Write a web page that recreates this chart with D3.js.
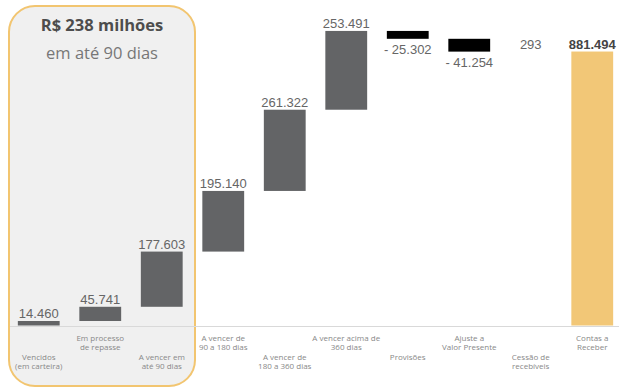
<!DOCTYPE html>
<html>
<head>
<meta charset="utf-8">
<script src="https://cdn.jsdelivr.net/npm/d3@7"></script>
<style>
  body { margin: 0; background: #fff; }
</style>
</head>
<body>
<script>
'use strict';

// waterfall data (R$ mil)
const categories = [
  ["Vencidos", "(em carteira)"],
  ["Em processo", "de repasse"],
  ["A vencer em", "até 90 dias"],
  ["A vencer de", "90 a 180 dias"],
  ["A vencer de", "180 a 360 dias"],
  ["A vencer acima de", "360 dias"],
  ["Provisões"],
  ["Ajuste a", "Valor Presente"],
  ["Cessão de", "recebíveis"],
  ["Contas a", "Receber"]
];
const values = [14.460, 45.741, 177.603, 195.140, 261.322, 253.491, -25.302, -41.254, 0.293, 881.494];
const valueLabels = ["14.460", "45.741", "177.603", "195.140", "261.322", "253.491", "- 25.302", "- 41.254", "293", "881.494"];
const kinds = ["step", "step", "step", "step", "step", "step", "neg", "neg", "step", "total"];

const width = 619, height = 389;

const svg = d3.select("body").append("svg")
  .attr("width", width)
  .attr("height", height);

// highlight box for first three categories
svg.append("rect")
  .attr("x", 9)
  .attr("y", 6)
  .attr("width", 186)
  .attr("height", 380)
  .attr("rx", 26)
  .attr("fill", "#f0f0f0")
  .attr("stroke", "#f2c570")
  .attr("stroke-width", 2);

svg.append("text")
  .attr("x", 102)
  .attr("y", 31)
  .attr("text-anchor", "middle")
  .attr("font-family", "Open Sans, sans-serif")
  .attr("font-size", "16.5px")
  .attr("font-weight", "bold")
  .attr("fill", "#4d4d4d")
  .text("R$ 238 milhões");

svg.append("text")
  .attr("x", 102)
  .attr("y", 59)
  .attr("text-anchor", "middle")
  .attr("font-family", "Open Sans, sans-serif")
  .attr("font-size", "16.5px")
  .attr("fill", "#777")
  .text("em até 90 dias");

// scales
const x = d3.scaleBand()
  .domain(d3.range(categories.length))
  .range([8, 623])
  .paddingInner(0.32)
  .paddingOuter(0.16);

const y = d3.scaleLinear()
  .domain([0, 1000])
  .range([325.5, 14.7]);

// running totals
let run = 0;
const bars = values.map((v, i) => {
  let start, end;
  if (kinds[i] === "total") { start = 0; end = v; }
  else { start = run; end = run + v; run = end; }
  return { i: i, v: v, lo: Math.min(start, end), hi: Math.max(start, end), kind: kinds[i], label: valueLabels[i] };
});

// baseline
svg.append("line")
  .attr("x1", 10)
  .attr("x2", width)
  .attr("y1", 326.5)
  .attr("y2", 326.5)
  .attr("stroke", "#d9d9d9")
  .attr("stroke-width", 1);

const colors = { step: "#636466", neg: "#000000", total: "#f2c777" };

svg.selectAll("rect.bar")
  .data(bars)
  .enter()
  .append("rect")
    .attr("class", "bar")
    .attr("x", d => x(d.i))
    .attr("width", x.bandwidth())
    .attr("y", d => y(d.hi))
    .attr("height", d => {
      const h = y(d.lo) - y(d.hi);
      return h < 0.5 ? 0 : h;   // sub-pixel steps aren't visible
    })
    .attr("fill", d => colors[d.kind]);

// value labels
svg.selectAll("text.value")
  .data(bars)
  .enter()
  .append("text")
    .attr("class", "value")
    .attr("x", d => x(d.i) + x.bandwidth() / 2)
    .attr("y", d => d.kind === "neg" ? y(d.lo) + 15 : y(d.hi) - 3)
    .attr("text-anchor", "middle")
    .attr("font-family", "Liberation Sans, Arial, sans-serif")
    .attr("font-size", "13px")
    .attr("font-weight", d => d.kind === "total" ? "bold" : "normal")
    .attr("fill", d => d.kind === "total" ? "#444" : "#666")
    .text(d => d.label);

// category labels, staggered
const cat = svg.selectAll("text.cat")
  .data(categories)
  .enter()
  .append("text")
    .attr("class", "cat")
    .attr("text-anchor", "middle")
    .attr("font-family", "Open Sans, sans-serif")
    .attr("font-size", "8px")
    .attr("fill", "#888")
    .attr("transform", (d, i) => "translate(" + (x(i) + x.bandwidth() / 2) + "," + (i % 2 === 0 ? 359.5 : 340.5) + ")");

cat.selectAll("tspan")
  .data(d => d)
  .enter()
  .append("tspan")
    .attr("x", 0)
    .attr("dy", (d, j) => j === 0 ? 0 : 9.8)
    .text(d => d);
</script>
</body>
</html>
